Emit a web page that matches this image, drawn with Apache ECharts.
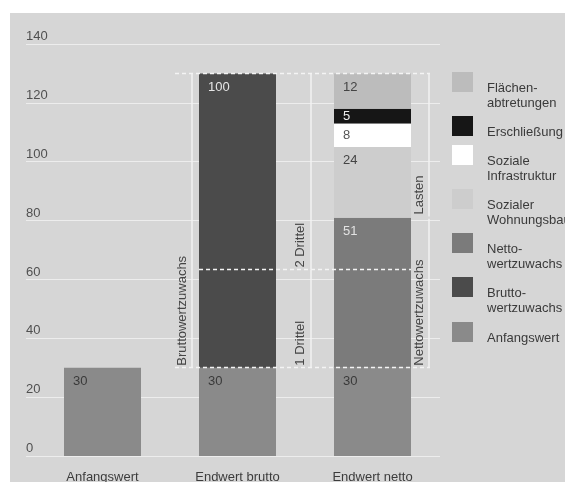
<!DOCTYPE html>
<html><head><meta charset="utf-8">
<script src="https://cdn.jsdelivr.net/npm/echarts@6/dist/echarts.min.js"></script>
<style>html,body{margin:0;padding:0;background:#fff}#c{width:565px;height:482px}</style>
</head><body><div id="c"></div>
<script>
// ---- data ----
const categories = ['Anfangswert', 'Endwert brutto', 'Endwert netto'];
const anfangswert = [30, 30, 30];
const bruttowertzuwachs = [null, 100, null];
const nettowertzuwachs = [null, null, 51];
const sozialerWohnungsbau = [null, null, 24];
const sozialeInfrastruktur = [null, null, 8];
const erschliessung = [null, null, 5];
const flaechenabtretungen = [null, null, 12];
const yTicks = [0, 20, 40, 60, 80, 100, 120, 140];
// annotation levels
const baseLevel = 30;
const topLevel = 130;
const eindrittel = 30 + 100 / 3;
const nettoTop = 81;

const names = {
  fl: 'Flächen-\nabtretungen',
  er: 'Erschließung',
  si: 'Soziale\nInfrastruktur',
  sw: 'Sozialer\nWohnungsbau',
  nw: 'Netto-\nwertzuwachs',
  bw: 'Brutto-\nwertzuwachs',
  an: 'Anfangswert'
};
const FONT = 'Liberation Sans, Arial, sans-serif';

function bar(name, data, color, labelColor, pos) {
  return {
    type: 'bar', name: name, stack: 'a', data: data, barWidth: 77,
    xAxisIndex: 0, yAxisIndex: 0,
    itemStyle: { color: color },
    label: { show: true, position: pos || [9, 7], color: labelColor, fontSize: 13, fontFamily: FONT },
    emphasis: { disabled: true }, animation: false
  };
}

const dashed = { color: '#f4f4f4', width: 1.3, type: [4, 3] };
const solid = { color: '#f2f2f2', width: 1.5, type: 'solid' };
const lbl = (t) => ({ show: true, formatter: t, position: 'insideStartTop', color: '#454545', fontSize: 13, fontFamily: FONT, distance: [2, 3] });
const noLbl = { show: false };

const markData = [
  [{ coord: [1.037, topLevel], lineStyle: dashed, label: noLbl }, { coord: [2.926, topLevel] }],
  [{ coord: [1.037, baseLevel], lineStyle: dashed, label: noLbl }, { coord: [2.926, baseLevel] }],
  [{ coord: [1.215, eindrittel], lineStyle: dashed, label: noLbl }, { coord: [2.785, eindrittel] }],
  [{ coord: [1.161, baseLevel], lineStyle: solid, label: lbl('Bruttowertzuwachs') }, { coord: [1.161, topLevel] }],
  [{ coord: [2.04, baseLevel], lineStyle: solid, label: lbl('1 Drittel') }, { coord: [2.04, eindrittel] }],
  [{ coord: [2.04, eindrittel], lineStyle: solid, label: lbl('2 Drittel') }, { coord: [2.04, topLevel] }],
  [{ coord: [2.92, baseLevel], lineStyle: solid, label: lbl('Nettowertzuwachs') }, { coord: [2.92, nettoTop - 0.4] }],
  [{ coord: [2.92, nettoTop + 0.4], lineStyle: solid, label: lbl('Lasten') }, { coord: [2.92, topLevel] }]
];

const legendOrder = [names.fl, names.er, names.si, names.sw, names.nw, names.bw, names.an];
const legendTops = [72, 116, 145, 189, 233, 277, 322];
const legends = legendOrder.map((n, i) => {
  const lines = n.split('\n').length;
  const spacer = lines > 1 ? 27 : 13;
  const blockTop = 10 - (spacer + lines * 15) / 2;
  return {
    data: [n], left: 452, top: legendTops[i] + Math.min(0, blockTop), orient: 'vertical', padding: 0,
    itemWidth: 21, itemHeight: 20, icon: 'rect', selectedMode: false,
    itemStyle: { borderWidth: 0 },
    formatter: (name) => '{s| }\n' + name.split('\n').map(p => '{t|' + p + '}').join('\n'),
    textStyle: {
      fontSize: 13, color: '#3a3a3a', fontFamily: FONT,
      rich: {
        s: { fontSize: 1, height: spacer, lineHeight: spacer },
        t: { fontSize: 13, lineHeight: 15, color: '#3a3a3a', fontFamily: FONT, padding: [0, 0, 0, 9] }
      }
    }
  };
});

const yMin = yTicks[0], yMax = yTicks[yTicks.length - 1], yStep = yTicks[1] - yTicks[0];

const chart = echarts.init(document.getElementById('c'));
chart.setOption({
  backgroundColor: '#d6d6d6',
  animation: false,
  textStyle: { fontFamily: FONT },
  graphic: [
    { type: 'rect', left: 0, top: 0, shape: { width: 565, height: 13 }, style: { fill: '#ffffff' }, z: 100, silent: true },
    { type: 'rect', left: 0, top: 0, shape: { width: 10, height: 482 }, style: { fill: '#ffffff' }, z: 100, silent: true }
  ],
  legend: legends,
  grid: [
    { left: 35, right: 125, top: 44, bottom: 26, outerBoundsMode: 'none' },
    { left: 26, right: 125, top: 44, bottom: 26, outerBoundsMode: 'none' }
  ],
  xAxis: [
    { gridIndex: 0, type: 'category', data: categories, axisLine: { show: false }, axisTick: { show: false },
      axisLabel: { margin: 15, color: '#3c3c3c', fontSize: 13, fontFamily: FONT } },
    { gridIndex: 0, type: 'value', min: 0, max: 3, show: false },
    { gridIndex: 1, type: 'value', min: 0, max: 1, show: false }
  ],
  yAxis: [
    { gridIndex: 0, type: 'value', min: yMin, max: yMax, interval: yStep, show: false },
    { gridIndex: 1, type: 'value', min: yMin, max: yMax, interval: yStep,
      axisLine: { show: false }, axisTick: { show: false },
      splitLine: { lineStyle: { color: '#ededed', width: 1.2 } },
      axisLabel: { align: 'left', margin: 0, verticalAlign: 'bottom', padding: [0, 0, 1, 0], color: '#505050', fontSize: 13, fontFamily: FONT } }
  ],
  series: [
    bar(names.an, anfangswert, '#8a8a8a', '#3a3a3a'),
    bar(names.bw, bruttowertzuwachs, '#4b4b4b', '#e6e6e6'),
    bar(names.nw, nettowertzuwachs, '#7b7b7b', '#e2e2e2'),
    bar(names.sw, sozialerWohnungsbau, '#cdcdcd', '#444444'),
    bar(names.si, sozialeInfrastruktur, '#ffffff', '#555555', [9, 5]),
    bar(names.er, erschliessung, '#161616', '#eeeeee', [9, 1]),
    bar(names.fl, flaechenabtretungen, '#bcbcbc', '#444444'),
    { type: 'line', name: 'annotations', xAxisIndex: 1, yAxisIndex: 0, data: [], silent: true,
      markLine: { silent: true, symbol: ['none', 'none'], animation: false, data: markData } }
  ]
});
</script></body></html>
